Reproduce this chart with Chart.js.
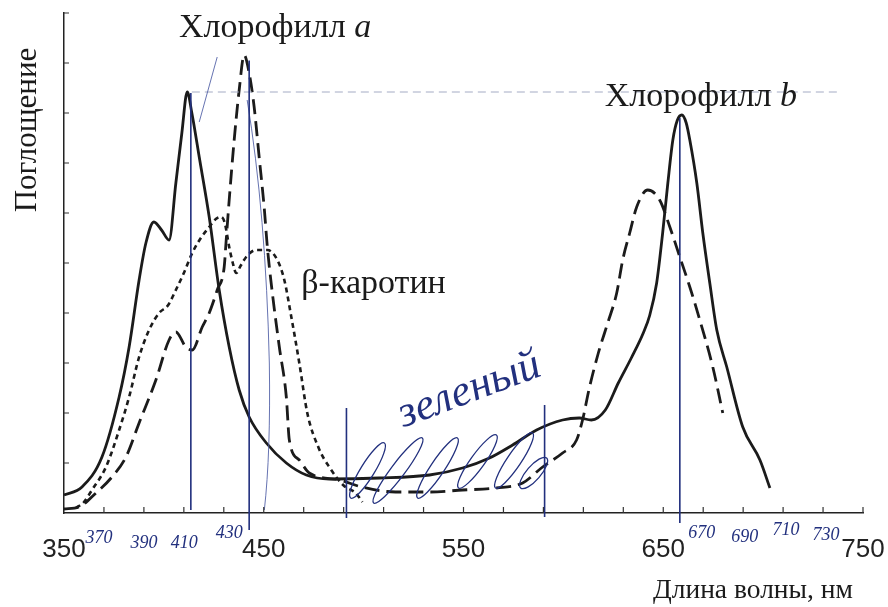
<!DOCTYPE html>
<html>
<head>
<meta charset="utf-8">
<script src="https://cdn.jsdelivr.net/npm/chart.js@4"></script>
<style>
  html, body { margin: 0; padding: 0; background: #fff; }
  #c { display: block; }
</style>
</head>
<body>
<canvas id="c" width="888" height="607"></canvas>
<script>
// absorption curves (wavelength nm, absorption in tick units 0..10)
const solidWl = [350, 359, 369, 377.6, 382.6, 387.6, 391, 395, 399, 402.6, 406, 409, 411.7, 414, 417.7, 422.7, 427.7, 432.7, 437.7, 442.7, 451.3, 461.3, 471.3, 482.8, 507.9, 533, 549.5, 563, 574.6, 586.6, 599.6, 608, 614, 621, 627.5, 634, 640, 643.2, 646.7, 649.7, 652.3, 654.8, 657, 659.3, 661.5, 663.3, 666.8, 669.8, 673.3, 676.8, 681.8, 689.8, 698.4, 703.4];
const solidAbs = [0.36, 0.52, 1.12, 2.32, 3.32, 4.66, 5.4, 5.82, 5.65, 5.46, 6.6, 7.6, 8.42, 8.0, 7.12, 5.92, 4.46, 3.32, 2.46, 1.92, 1.4, 1.0, 0.76, 0.68, 0.7, 0.76, 0.9, 1.1, 1.36, 1.66, 1.86, 1.9, 1.86, 2.06, 2.6, 3.1, 3.6, 3.95, 4.6, 5.6, 6.6, 7.46, 7.85, 7.96, 7.8, 7.46, 6.6, 5.6, 4.6, 3.66, 2.92, 1.72, 1.06, 0.5];

const dashWl = [350, 357.5, 366, 374, 381, 387.6, 396, 402.6, 406, 411, 414.2, 419.2, 422.7, 426.7, 430.2, 431.2, 432.7, 435.2, 437.7, 440.2, 442.7, 445.2, 447.7, 450.2, 451.8, 454.3, 457.8, 461.3, 462.8, 467.8, 472.8, 488, 499, 516, 533, 549.5, 566.5, 579.6, 589.6, 599.6, 606.6, 609.6, 613, 617.5, 622.2, 626.7, 629.7, 633.2, 636.7, 642.2, 648.2, 653.3, 658.3, 663.3, 668.3, 674.8, 679.8];
const dashAbs = [0.08, 0.12, 0.4, 0.72, 1.12, 1.8, 2.66, 3.46, 3.62, 3.32, 3.26, 3.72, 4.0, 4.46, 4.92, 5.46, 6.26, 7.46, 8.46, 9.16, 8.8, 8.12, 7.12, 6.12, 5.32, 4.4, 3.32, 2.32, 1.46, 1.06, 0.8, 0.66, 0.52, 0.42, 0.42, 0.46, 0.5, 0.6, 0.92, 1.2, 1.46, 1.86, 2.5, 3.2, 3.8, 4.4, 5.06, 5.6, 6.12, 6.46, 6.26, 5.72, 5.12, 4.52, 3.86, 2.92, 2.0];

const dotWl = [356, 360, 364, 371, 377.6, 382.6, 387.6, 392.6, 397.6, 402, 406, 410, 414.2, 418.5, 422.7, 426, 428.7, 430.5, 432.7, 434.5, 436.2, 438.5, 441.2, 446.2, 451.8, 456.8, 460.3, 463.8, 467.8, 471.8, 477.5, 482.8, 490, 496, 499.4];
const dotAbs = [0.1, 0.22, 0.46, 0.92, 1.66, 2.32, 3.12, 3.66, 4.0, 4.15, 4.46, 4.8, 5.2, 5.5, 5.72, 5.88, 5.92, 5.8, 5.32, 5.0, 4.8, 4.95, 5.12, 5.26, 5.26, 5.06, 4.66, 3.92, 3.0, 2.0, 1.3, 0.92, 0.55, 0.4, 0.22];

const seriesNames = ['Хлорофилл a', 'Хлорофилл b', 'β-каротин'];
const xLabels = [350, 450, 550, 650, 750];

// pencil notes on the scan
const penLines = [413.5, 442.7, 491.4, 590.6, 658.3];
const penTop = [8.4, 9.05, 2.1, 2.16, 7.9];
const penBottom = [0.06, -0.34, -0.1, -0.08, -0.2];
const penNums = ['370', '390', '410', '430', '670', '690', '710', '730'];
const penNumWl = [367.5, 390.1, 410.2, 432.7, 669.3, 690.8, 711.4, 731.5];
const penNumAbs = [-0.5, -0.6, -0.6, -0.4, -0.4, -0.48, -0.34, -0.44];
const hatchWl = [[493.5, 510.4], [505, 529.4], [527, 547], [547.5, 566.5], [566, 584.6], [578.6, 591.6]];
const hatchAbs = [[0.3, 1.4], [0.2, 1.5], [0.3, 1.5], [0.5, 1.56], [0.5, 1.6], [0.5, 1.1]];

const ink = '#1b1b1b';
const pen = '#22307e';
const serif = '"Liberation Serif", "DejaVu Serif", serif';

function pts(wl, ab) {
    return wl.map((w, i) => ({ x: w, y: ab[i] }));
}

const axisMarks = {
    id: 'axisMarks',
    afterDraw(chart) {
        const { ctx, scales: { x, y }, chartArea: a } = chart;
        ctx.save();
        ctx.strokeStyle = '#333';
        ctx.lineWidth = 1.2;
        ctx.beginPath();
        x.ticks.forEach(t => {
            if (t.value === 350) return;
            const px = x.getPixelForValue(t.value);
            ctx.moveTo(px, a.bottom);
            ctx.lineTo(px, a.bottom - 6);
        });
        y.ticks.forEach(t => {
            if (t.value === 0) return;
            const py = y.getPixelForValue(t.value);
            ctx.moveTo(a.left, py);
            ctx.lineTo(a.left + 5, py);
        });
        ctx.stroke();

        // printed captions
        ctx.fillStyle = ink;
        ctx.textBaseline = 'alphabetic';
        ctx.textAlign = 'left';
        const label = (text, italic, wl, v) => {
            ctx.font = '34px ' + serif;
            const px = x.getPixelForValue(wl), py = y.getPixelForValue(v);
            ctx.fillText(text, px, py);
            if (italic) {
                const w = ctx.measureText(text).width;
                ctx.font = 'italic 34px ' + serif;
                ctx.fillText(italic, px + w, py);
            }
        };
        label('Хлорофилл ', 'a', 407.6, 9.52);
        label('Хлорофилл ', 'b', 620.7, 8.14);
        label('β-каротин', '', 468.8, 4.4);

        ctx.font = '31px ' + serif;
        ctx.save();
        ctx.translate(a.left - 28, y.getPixelForValue(7.66));
        ctx.rotate(-Math.PI / 2);
        ctx.textAlign = 'center';
        ctx.fillText('Поглощение', 0, 0);
        ctx.restore();

        ctx.font = '27.5px ' + serif;
        ctx.textAlign = 'center';
        ctx.fillText('Длина волны, нм', x.getPixelForValue(694.9), 598);
        ctx.restore();
    },
    afterDatasetsDraw(chart) {
        const { ctx, scales: { x, y } } = chart;
        ctx.save();
        // faint dashed guide at the first peak
        ctx.strokeStyle = '#a4abc4';
        ctx.lineWidth = 1;
        ctx.setLineDash([8, 5]);
        ctx.beginPath();
        ctx.moveTo(x.getPixelForValue(414), y.getPixelForValue(8.42));
        ctx.lineTo(x.getPixelForValue(738), y.getPixelForValue(8.42));
        ctx.stroke();
        ctx.setLineDash([]);

        // thin pen strokes near 440 nm
        ctx.strokeStyle = '#5563a8';
        ctx.lineWidth = 0.9;
        ctx.beginPath();
        ctx.moveTo(x.getPixelForValue(426.7), y.getPixelForValue(9.12));
        ctx.lineTo(x.getPixelForValue(417.7), y.getPixelForValue(7.82));
        ctx.moveTo(x.getPixelForValue(441.7), y.getPixelForValue(8.26));
        ctx.quadraticCurveTo(x.getPixelForValue(451), y.getPixelForValue(6.0), x.getPixelForValue(452.8), y.getPixelForValue(3.0));
        ctx.quadraticCurveTo(x.getPixelForValue(453.5), y.getPixelForValue(1.2), x.getPixelForValue(450.3), y.getPixelForValue(0.06));
        ctx.stroke();

        // vertical pen lines
        ctx.strokeStyle = pen;
        ctx.lineWidth = 1.6;
        ctx.beginPath();
        penLines.forEach((w, i) => {
            ctx.moveTo(x.getPixelForValue(w), y.getPixelForValue(penTop[i]));
            ctx.lineTo(x.getPixelForValue(w), y.getPixelForValue(penBottom[i]));
        });
        ctx.stroke();

        // hatching of the green band
        ctx.lineWidth = 1.3;
        hatchWl.forEach((hw, i) => {
            const x1 = x.getPixelForValue(hw[0]), y1 = y.getPixelForValue(hatchAbs[i][0]);
            const x2 = x.getPixelForValue(hw[1]), y2 = y.getPixelForValue(hatchAbs[i][1]);
            const len = Math.hypot(x2 - x1, y2 - y1);
            ctx.beginPath();
            ctx.ellipse((x1 + x2) / 2, (y1 + y2) / 2, len / 2, 7, Math.atan2(y2 - y1, x2 - x1), 0, Math.PI * 2);
            ctx.stroke();
        });

        ctx.fillStyle = pen;
        ctx.textAlign = 'center';
        ctx.textBaseline = 'middle';
        ctx.font = 'italic 18px ' + serif;
        penNums.forEach((n, i) => {
            ctx.fillText(n, x.getPixelForValue(penNumWl[i]), y.getPixelForValue(penNumAbs[i]));
        });

        ctx.save();
        ctx.translate(x.getPixelForValue(553), y.getPixelForValue(2.45));
        ctx.rotate(-0.36);
        ctx.font = 'italic 44px ' + serif;
        ctx.fillText('зеленый', 0, 0);
        ctx.restore();
        ctx.restore();
    }
};

new Chart(document.getElementById('c').getContext('2d'), {
    type: 'line',
    data: {
        datasets: [{
            label: seriesNames[0],
            data: pts(solidWl, solidAbs),
            borderColor: ink,
            borderWidth: 2.8
        }, {
            label: seriesNames[1],
            data: pts(dashWl, dashAbs),
            borderColor: ink,
            borderWidth: 2.8,
            borderDash: [15, 7]
        }, {
            label: seriesNames[2],
            data: pts(dotWl, dotAbs),
            borderColor: ink,
            borderWidth: 2.6,
            borderDash: [5, 4]
        }]
    },
    options: {
        responsive: false,
        animation: false,
        elements: { point: { radius: 0 }, line: { cubicInterpolationMode: 'monotone', fill: false } },
        layout: { padding: { left: 64, right: 25, top: 13, bottom: 34 } },
        plugins: { legend: { display: false }, tooltip: { enabled: false } },
        scales: {
            x: {
                type: 'linear',
                min: 350,
                max: 750,
                afterFit: (s) => { s.height = 60; s.paddingLeft = 0; s.paddingRight = 0; },
                grid: { display: false, drawTicks: false },
                border: { display: true, color: '#222', width: 1.5 },
                ticks: {
                    stepSize: 20,
                    autoSkip: false,
                    maxRotation: 0,
                    padding: 21,
                    color: '#222',
                    font: { family: '"Liberation Sans", Arial, sans-serif', size: 26 },
                    callback: (v) => xLabels.includes(v) ? String(v) : ''
                }
            },
            y: {
                min: 0,
                max: 10,
                afterFit: (s) => { s.width = 0; },
                grid: { display: false, drawTicks: false },
                border: { display: true, color: '#222', width: 1.5 },
                ticks: { stepSize: 1, display: false }
            }
        }
    },
    plugins: [axisMarks]
});
</script>
</body>
</html>
